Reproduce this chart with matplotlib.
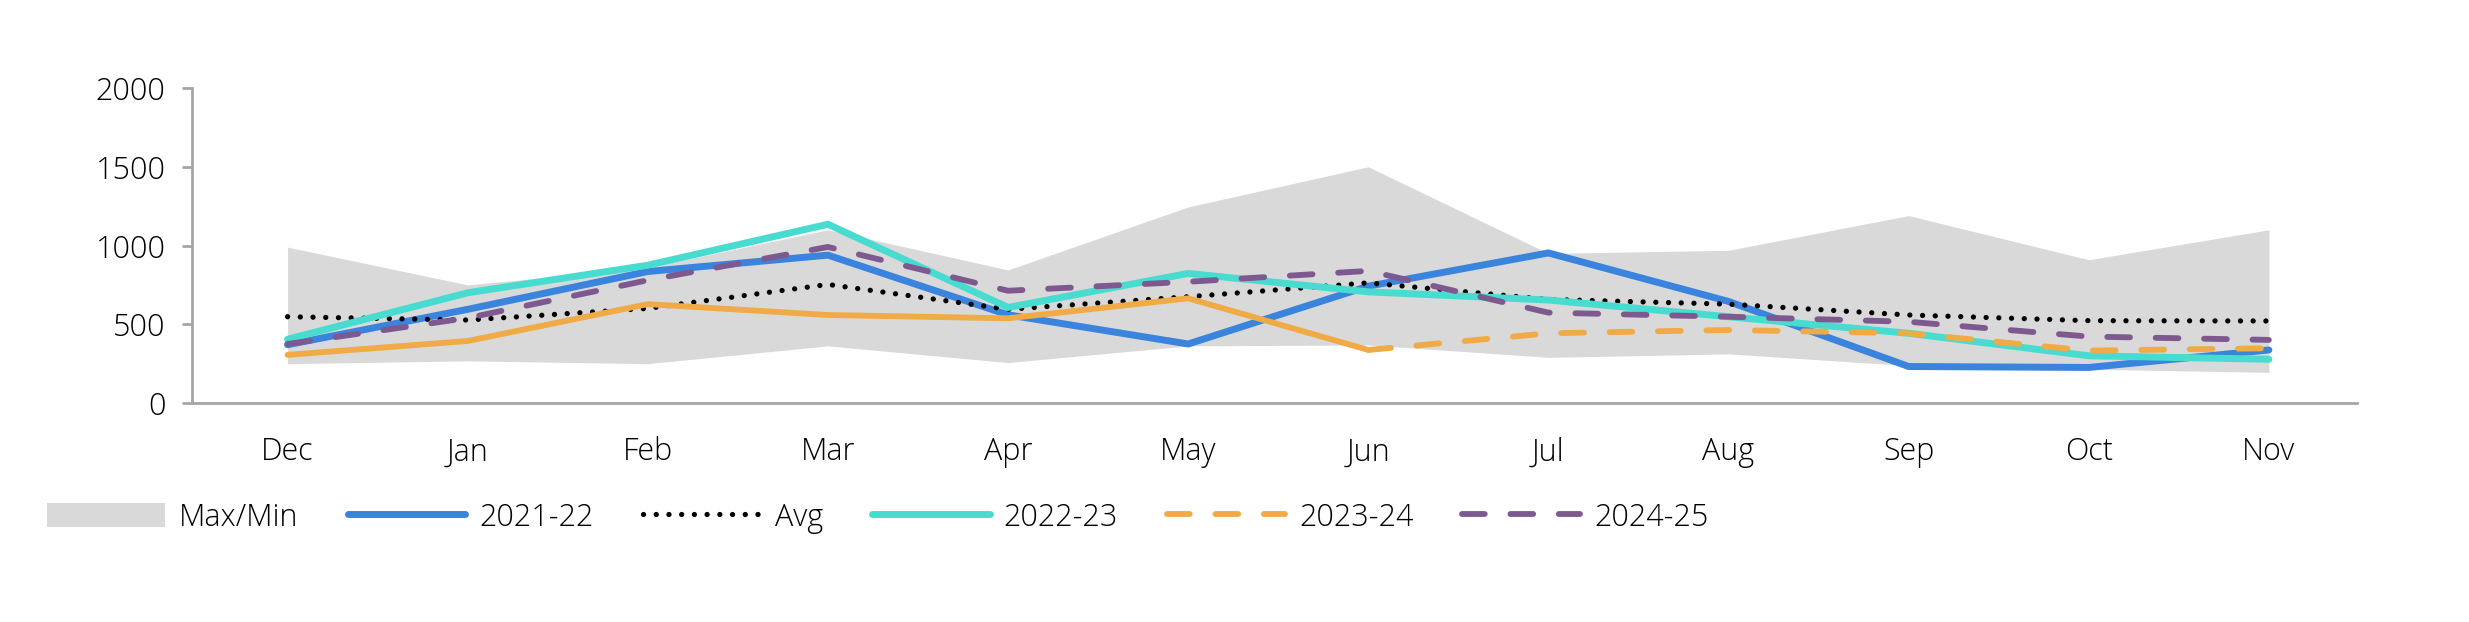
import matplotlib
matplotlib.use("Agg")
import matplotlib.pyplot as plt
from matplotlib.patches import Patch
from matplotlib.lines import Line2D

months = ["Dec", "Jan", "Feb", "Mar", "Apr", "May", "Jun", "Jul", "Aug", "Sep", "Oct", "Nov"]
band_max = [990, 750, 860, 1100, 845, 1245, 1500, 950, 970, 1190, 910, 1100]
band_min = [250, 268, 250, 363, 257, 363, 369, 290, 312, 238, 215, 195]
avg = [548, 527, 601, 753, 595, 675, 763, 658, 628, 559, 523, 521]
s2122 = [370, 595, 835, 939, 560, 375, 742, 953, 645, 232, 226, 337]
s2223 = [405, 700, 875, 1135, 607, 823, 706, 654, 548, 443, 300, 278]
s2324 = [306, 394, 628, 559, 538, 665, 337, 443, 464, 443, 333, 348]
s2425 = [375, 540, 780, 991, 713, 770, 839, 574, 548, 516, 422, 401]
solid_end = 6  # 2023-24 solid through Jun, dashed after

plt.rcParams['font.family'] = ['Open Sans', 'DejaVu Sans']
plt.rcParams['font.weight'] = 'light'

fig = plt.figure(figsize=(24.69, 6.22), dpi=100)
ax = fig.add_axes([0.0778, 0.352, 0.8769, 0.5065])

x = list(range(len(months)))
C_BLUE = "#3A84DE"
C_TEAL = "#48DCD0"
C_ORANGE = "#F0AA46"
C_PURPLE = "#7E5990"
C_GRAY = "#D9D9D9"
DASH = (0, (3.9, 4.4))
DOT = (0, (0.01, 2.4))
FS = 22

ax.fill_between(x, band_min, band_max, color=C_GRAY, linewidth=0, zorder=1)
ax.plot(x, s2122, color=C_BLUE, lw=5.0, solid_capstyle='round', solid_joinstyle='miter', zorder=2)
ax.plot(x, avg, color="black", lw=3.8, linestyle=DOT, dash_capstyle='round', zorder=3)
ax.plot(x, s2223, color=C_TEAL, lw=5.0, solid_capstyle='round', solid_joinstyle='miter', zorder=4)
ax.plot(x[:solid_end + 1], s2324[:solid_end + 1], color=C_ORANGE, lw=4.2,
        solid_capstyle='round', zorder=5)
ax.plot(x[solid_end:], s2324[solid_end:], color=C_ORANGE, lw=4.2,
        linestyle=DASH, dash_capstyle='round', zorder=5)
ax.plot(x, s2425, color=C_PURPLE, lw=4.2, linestyle=DASH,
        dash_capstyle='round', zorder=6)

ax.set_xlim(-0.53, 11.49)
ax.set_ylim(0, 2000)
ax.set_yticks([0, 500, 1000, 1500, 2000])
ax.set_xticks(x)
ax.set_xticklabels(months)

for s in ["top", "right"]:
    ax.spines[s].set_visible(False)
for s in ["left", "bottom"]:
    ax.spines[s].set_color("#A6A6A6")
    ax.spines[s].set_linewidth(2)

ax.tick_params(axis='y', length=7, width=2, color="#A6A6A6", pad=12, labelsize=FS, labelcolor="black")
ax.tick_params(axis='x', length=0, pad=24, labelsize=FS, labelcolor="black")

handles = [
    Patch(facecolor=C_GRAY, edgecolor='none'),
    Line2D([], [], color=C_BLUE, lw=5.0, solid_capstyle='round'),
    Line2D([], [], color="black", lw=3.8, linestyle=DOT, dash_capstyle='round'),
    Line2D([], [], color=C_TEAL, lw=5.0, solid_capstyle='round'),
    Line2D([], [], color=C_ORANGE, lw=4.2, linestyle=DASH, dash_capstyle='round'),
    Line2D([], [], color=C_PURPLE, lw=4.2, linestyle=DASH, dash_capstyle='round'),
]
labels = ["Max/Min", "2021-22", "Avg", "2022-23", "2023-24", "2024-25"]
fig.legend(handles, labels, loc='center left', bbox_to_anchor=(0.008, 0.168), ncol=6,
           frameon=False, fontsize=FS, handlelength=3.86, handleheight=0.8,
           handletextpad=0.46, columnspacing=1.6)

fig.savefig("out.png", dpi=100, facecolor="white")
